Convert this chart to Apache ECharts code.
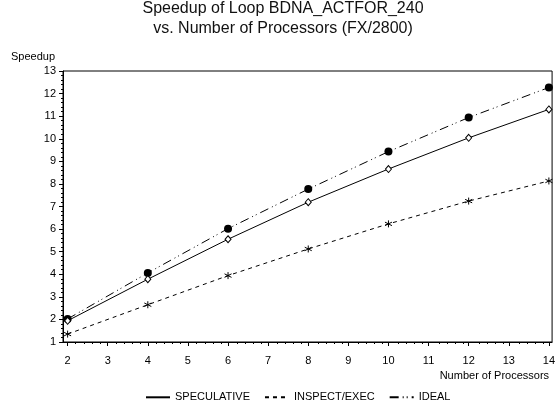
<!DOCTYPE html>
<html>
<head>
<meta charset="utf-8">
<script src="https://cdn.jsdelivr.net/npm/echarts@6/dist/echarts.min.js"></script>
<style>
html,body{margin:0;padding:0;background:#fff;}
#chart{width:558px;height:406px;}
</style>
</head>
<body>
<div id="chart"></div>
<script>
// ---- data ----
var processors = [2, 4, 6, 8, 10, 12, 14];
var speculative = [1.94, 3.78, 5.55, 7.19, 8.66, 10.04, 11.30];
var inspectExec = [1.35, 2.65, 3.94, 5.12, 6.23, 7.24, 8.13];
var ideal = [2.02, 4.06, 6.02, 7.77, 9.43, 10.94, 12.27];
var xTickLabels = [2, 3, 4, 5, 6, 7, 8, 9, 10, 11, 12, 13, 14];
var seriesNames = ['SPECULATIVE', 'INSPECT/EXEC', 'IDEAL'];
var titleLines = ['Speedup of Loop BDNA_ACTFOR_240', 'vs. Number of Processors (FX/2800)'];

function pairs(ys) { return processors.map(function (x, i) { return [x, ys[i]]; }); }
var minorX = [];
for (var i = 0; i < xTickLabels.length - 1; i++) {
  for (var k = 1; k < 5; k++) minorX.push(xTickLabels[i] + k * 0.2);
}

var FONT = '"Liberation Sans", Arial, sans-serif';
var XMIN = 1.885, XMAX = 14.08;
var asterisk = 'path://M5,0L5,10M0.7,2.5L9.3,7.5M0.7,7.5L9.3,2.5';
var GRID = {left: 63, right: 3, top: 71, bottom: 64};

var chart = echarts.init(document.getElementById('chart'), null, {renderer: 'canvas'});
chart.setOption({
  backgroundColor: '#fff',
  animation: false,
  textStyle: {fontFamily: FONT, color: '#000'},
  title: {
    text: titleLines.join('\n'),
    left: 283, top: -1, textAlign: 'center', padding: 0,
    textStyle: {fontFamily: FONT, fontSize: 16, fontWeight: 'normal', color: '#111', lineHeight: 20}
  },
  legend: {
    data: seriesNames,
    left: 140, top: 385,
    itemWidth: 24, itemHeight: 12, itemGap: 14,
    textStyle: {fontFamily: FONT, fontSize: 11, color: '#000'},
    itemStyle: {opacity: 0},
    selectedMode: false
  },
  grid: [
    {left: GRID.left, right: GRID.right, top: GRID.top, bottom: GRID.bottom, show: true, borderColor: '#000', borderWidth: 1, backgroundColor: 'transparent'},
    {left: GRID.left, right: GRID.right, top: GRID.top, bottom: GRID.bottom, show: false}
  ],
  xAxis: [{
    gridIndex: 0, type: 'value', min: XMIN, max: XMAX,
    name: 'Number of Processors', nameLocation: 'end', nameGap: 0,
    nameTextStyle: {fontFamily: FONT, fontSize: 11, color: '#000', align: 'right', verticalAlign: 'top', padding: [28, 3, 0, 0]},
    axisLine: {show: true, onZero: false, lineStyle: {color: '#000', width: 1}},
    axisTick: {show: true, customValues: xTickLabels, length: 4, inside: false, lineStyle: {color: '#000'}},
    axisLabel: {customValues: xTickLabels, fontFamily: FONT, fontSize: 11, color: '#000', margin: 13},
    splitLine: {show: false}
  }, {
    gridIndex: 1, type: 'value', min: XMIN, max: XMAX, position: 'bottom',
    axisLine: {show: false},
    axisTick: {show: true, customValues: minorX, length: 2, inside: false, lineStyle: {color: '#000'}},
    axisLabel: {show: false},
    splitLine: {show: false}
  }],
  yAxis: [{
    gridIndex: 0, type: 'value', min: 1, max: 13, interval: 1,
    name: 'Speedup', nameLocation: 'end', nameGap: 14,
    nameTextStyle: {fontFamily: FONT, fontSize: 11, color: '#000', align: 'right', verticalAlign: 'middle', padding: [0, 8, 0, 0]},
    axisLine: {show: true, onZero: false, lineStyle: {color: '#000', width: 1}},
    axisTick: {show: true, length: 4, lineStyle: {color: '#000'}},
    minorTick: {show: true, splitNumber: 5, length: 2, lineStyle: {color: '#000'}},
    axisLabel: {fontFamily: FONT, fontSize: 11, color: '#000', margin: 7},
    splitLine: {show: false}
  }, {
    gridIndex: 1, type: 'value', min: 1, max: 13, show: false
  }],
  series: [{
    name: seriesNames[0], type: 'line', data: pairs(speculative),
    lineStyle: {color: '#000', width: 1, type: 'solid'},
    symbol: 'diamond', symbolSize: [6, 7],
    itemStyle: {color: '#fff', borderColor: '#000', borderWidth: 1},
    z: 3
  }, {
    name: seriesNames[1], type: 'line', data: pairs(inspectExec),
    lineStyle: {color: '#000', width: 1, type: [4, 4]},
    symbol: asterisk, symbolSize: 7,
    itemStyle: {color: 'none', borderColor: '#000', borderWidth: 1},
    z: 2
  }, {
    name: seriesNames[2], type: 'line', data: pairs(ideal),
    lineStyle: {color: '#000', width: 1, type: [9, 4, 1, 3, 1, 4]},
    symbol: 'circle', symbolSize: 8,
    itemStyle: {color: '#000', borderColor: '#000', borderWidth: 0},
    z: 2
  }]
});
</script>
</body>
</html>
